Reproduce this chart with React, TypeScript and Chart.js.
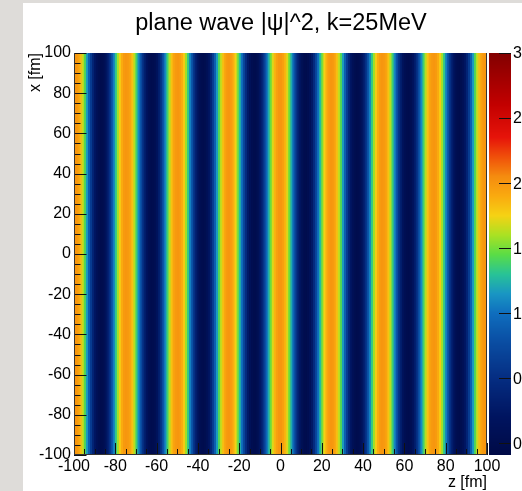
import React, { useEffect, useRef } from "react";
import { Chart, registerables } from "chart.js";

Chart.register(...registerables);

// ---------- data ----------
const TITLE = "plane wave |\u03C8|^2, k=25MeV";
const X_TITLE = "z [fm]";
const Y_TITLE = "x [fm]";

// z bin centres [fm], 1 fm bins
const zBinCenters = [
  -99.5, -98.5, -97.5, -96.5, -95.5, -94.5, -93.5, -92.5, -91.5, -90.5,
  -89.5, -88.5, -87.5, -86.5, -85.5, -84.5, -83.5, -82.5, -81.5, -80.5,
  -79.5, -78.5, -77.5, -76.5, -75.5, -74.5, -73.5, -72.5, -71.5, -70.5,
  -69.5, -68.5, -67.5, -66.5, -65.5, -64.5, -63.5, -62.5, -61.5, -60.5,
  -59.5, -58.5, -57.5, -56.5, -55.5, -54.5, -53.5, -52.5, -51.5, -50.5,
  -49.5, -48.5, -47.5, -46.5, -45.5, -44.5, -43.5, -42.5, -41.5, -40.5,
  -39.5, -38.5, -37.5, -36.5, -35.5, -34.5, -33.5, -32.5, -31.5, -30.5,
  -29.5, -28.5, -27.5, -26.5, -25.5, -24.5, -23.5, -22.5, -21.5, -20.5,
  -19.5, -18.5, -17.5, -16.5, -15.5, -14.5, -13.5, -12.5, -11.5, -10.5,
  -9.5, -8.5, -7.5, -6.5, -5.5, -4.5, -3.5, -2.5, -1.5, -0.5,
  0.5, 1.5, 2.5, 3.5, 4.5, 5.5, 6.5, 7.5, 8.5, 9.5,
  10.5, 11.5, 12.5, 13.5, 14.5, 15.5, 16.5, 17.5, 18.5, 19.5,
  20.5, 21.5, 22.5, 23.5, 24.5, 25.5, 26.5, 27.5, 28.5, 29.5,
  30.5, 31.5, 32.5, 33.5, 34.5, 35.5, 36.5, 37.5, 38.5, 39.5,
  40.5, 41.5, 42.5, 43.5, 44.5, 45.5, 46.5, 47.5, 48.5, 49.5,
  50.5, 51.5, 52.5, 53.5, 54.5, 55.5, 56.5, 57.5, 58.5, 59.5,
  60.5, 61.5, 62.5, 63.5, 64.5, 65.5, 66.5, 67.5, 68.5, 69.5,
  70.5, 71.5, 72.5, 73.5, 74.5, 75.5, 76.5, 77.5, 78.5, 79.5,
  80.5, 81.5, 82.5, 83.5, 84.5, 85.5, 86.5, 87.5, 88.5, 89.5,
  90.5, 91.5, 92.5, 93.5, 94.5, 95.5, 96.5, 97.5, 98.5, 99.5,
];

// |psi|^2 in each z bin (constant along x)
const intensity = [
  2.0, 1.99, 1.94, 1.84, 1.66, 1.43, 1.17, 0.9, 0.62, 0.38,
  0.21, 0.08, 0.02, 0.0, 0.04, 0.14, 0.3, 0.52, 0.78, 1.05,
  1.32, 1.58, 1.78, 1.9, 1.98, 2.0, 1.98, 1.93, 1.81, 1.62,
  1.37, 1.11, 0.84, 0.56, 0.34, 0.18, 0.06, 0.01, 0.01, 0.06,
  0.17, 0.34, 0.56, 0.83, 1.1, 1.37, 1.62, 1.81, 1.93, 1.98,
  2.0, 1.98, 1.9, 1.78, 1.58, 1.33, 1.06, 0.79, 0.52, 0.3,
  0.15, 0.04, 0.0, 0.02, 0.08, 0.2, 0.38, 0.62, 0.89, 1.17,
  1.43, 1.66, 1.83, 1.94, 1.99, 2.0, 1.97, 1.88, 1.74, 1.52,
  1.28, 1.01, 0.73, 0.47, 0.26, 0.12, 0.04, 0.0, 0.03, 0.1,
  0.24, 0.42, 0.67, 0.94, 1.22, 1.48, 1.7, 1.86, 1.95, 2.0,
  2.0, 1.95, 1.86, 1.7, 1.48, 1.22, 0.94, 0.67, 0.42, 0.24,
  0.1, 0.03, 0.0, 0.04, 0.12, 0.26, 0.47, 0.73, 1.01, 1.28,
  1.52, 1.74, 1.88, 1.97, 2.0, 1.99, 1.94, 1.83, 1.66, 1.43,
  1.17, 0.89, 0.62, 0.38, 0.2, 0.08, 0.02, 0.0, 0.04, 0.15,
  0.3, 0.52, 0.79, 1.06, 1.33, 1.58, 1.78, 1.9, 1.98, 2.0,
  1.98, 1.93, 1.81, 1.62, 1.37, 1.1, 0.83, 0.56, 0.34, 0.17,
  0.06, 0.01, 0.01, 0.06, 0.18, 0.34, 0.56, 0.84, 1.11, 1.37,
  1.62, 1.81, 1.93, 1.98, 2.0, 1.98, 1.9, 1.78, 1.58, 1.32,
  1.05, 0.78, 0.52, 0.3, 0.14, 0.04, 0.0, 0.02, 0.08, 0.21,
  0.38, 0.62, 0.9, 1.17, 1.43, 1.66, 1.84, 1.94, 1.99, 2.0,
];

const xExtent = [-100, 100]; // x [fm] range covered by every column
const axisMin = -100;
const axisMax = 100;
const axisStep = 20;
const minorStep = 5;
const colorRange = [-0.09, 3.0];
const colorbarTicks = [0, 0.5, 1, 1.5, 2, 2.5, 3];
const colorbarLabels = ["0", "0.5", "1", "1.5", "2", "2.5", "3"];

// ---------- style ----------
const FONT = "'Liberation Sans', Arial, Helvetica, sans-serif";
const PALETTE: [number, number, number, number][] = [
  [-0.09, 0, 10, 70],
  [0.2, 0, 20, 95],
  [0.5, 5, 45, 130],
  [0.8, 10, 80, 165],
  [1.0, 15, 110, 190],
  [1.15, 25, 150, 195],
  [1.3, 40, 195, 150],
  [1.45, 90, 220, 70],
  [1.6, 170, 225, 35],
  [1.75, 245, 210, 20],
  [1.9, 250, 170, 15],
  [2.05, 245, 140, 15],
  [2.2, 240, 80, 10],
  [2.35, 230, 20, 10],
  [2.6, 195, 0, 0],
  [3.0, 130, 0, 0],
];

function paletteColor(v: number): string {
  const s = PALETTE;
  const f = (a: number[]) => `rgb(${Math.round(a[1])},${Math.round(a[2])},${Math.round(a[3])})`;
  if (v <= s[0][0]) return f(s[0]);
  for (let i = 1; i < s.length; i++) {
    if (v <= s[i][0]) {
      const t = (v - s[i - 1][0]) / (s[i][0] - s[i - 1][0]);
      return f([0, 1, 2, 3].map((k) => s[i - 1][k] + (s[i][k] - s[i - 1][k]) * t));
    }
  }
  return f(s[s.length - 1]);
}

const rootStyle = {
  id: "rootStyle",
  afterDraw(chart: any) {
    const ctx = chart.ctx as CanvasRenderingContext2D;
    const xs = chart.scales.x;
    const ys = chart.scales.y;
    const zs = chart.scales.zc;
    const { left, right, top, bottom } = chart.chartArea;
    ctx.save();

    // axis ticks (pointing inward)
    ctx.strokeStyle = "#111";
    ctx.lineWidth = 1;
    ctx.beginPath();
    for (let v = axisMin; v <= axisMax; v += minorStep) {
      const major = (v - axisMin) % axisStep === 0;
      const py = Math.round(ys.getPixelForValue(v)) + 0.5;
      ctx.moveTo(left, py);
      ctx.lineTo(left + (major ? 12.5 : 6.5), py);
      const px = Math.round(xs.getPixelForValue(v)) + 0.5;
      ctx.moveTo(px, bottom);
      ctx.lineTo(px, bottom - (major ? 12 : 6));
    }
    ctx.stroke();

    // frame lines
    ctx.strokeStyle = "#333";
    ctx.beginPath();
    ctx.moveTo(Math.round(left) + 0.5, top);
    ctx.lineTo(Math.round(left) + 0.5, bottom);
    ctx.moveTo(left, Math.round(bottom) - 0.5);
    ctx.lineTo(right, Math.round(bottom) - 0.5);
    ctx.moveTo(Math.round(right) - 0.5, top);
    ctx.lineTo(Math.round(right) - 0.5, bottom);
    ctx.stroke();

    // colour bar
    const cbLeft = right + 2;
    const cbWidth = 22;
    const zTop = Math.round(zs.getPixelForValue(colorRange[1]));
    const zBot = Math.round(zs.getPixelForValue(colorRange[0]));
    for (let py = zTop; py < zBot; py++) {
      ctx.fillStyle = paletteColor(zs.getValueForPixel(py + 0.5));
      ctx.fillRect(cbLeft, py, cbWidth, 1);
    }
    ctx.strokeStyle = "#111";
    ctx.beginPath();
    colorbarTicks.forEach((v) => {
      const py = Math.round(zs.getPixelForValue(v)) + 0.5;
      ctx.moveTo(cbLeft + cbWidth, py);
      ctx.lineTo(cbLeft + cbWidth - 12, py);
    });
    ctx.stroke();
    ctx.fillStyle = "#000";
    ctx.font = `16px ${FONT}`;
    ctx.textAlign = "left";
    ctx.textBaseline = "middle";
    colorbarTicks.forEach((v, i) => {
      ctx.fillText(colorbarLabels[i], cbLeft + cbWidth + 2, zs.getPixelForValue(v) + 1);
    });

    // title
    ctx.font = `23.5px ${FONT}`;
    ctx.textAlign = "center";
    ctx.textBaseline = "alphabetic";
    ctx.fillText(TITLE, 281, 30);

    // axis titles
    ctx.font = `16px ${FONT}`;
    ctx.textAlign = "right";
    ctx.fillText(X_TITLE, right, 487);
    ctx.save();
    ctx.translate(39.5, top);
    ctx.rotate(-Math.PI / 2);
    ctx.textAlign = "right";
    ctx.fillText(Y_TITLE, 0, 0);
    ctx.restore();

    ctx.restore();
  },
};

export default function App() {
  const ref = useRef<HTMLCanvasElement>(null);
  useEffect(() => {
    const canvas = ref.current;
    if (!canvas) return;
    const tickFont = { family: FONT, size: 16 };
    const chart = new Chart(canvas, {
      type: "bar",
      data: {
        datasets: [
          {
            data: zBinCenters.map((z) => ({ x: z, y: xExtent })) as any,
            backgroundColor: intensity.map((v) => paletteColor(v)),
            borderWidth: 0,
            barPercentage: 1,
            categoryPercentage: 1,
            grouped: false,
            inflateAmount: 0.5,
            xAxisID: "x",
            yAxisID: "y",
          } as any,
        ],
      },
      options: {
        responsive: false,
        animation: false,
        events: [],
        layout: { padding: { left: 23, top: 53, right: 35, bottom: 0 } },
        plugins: {
          legend: { display: false },
          tooltip: { enabled: false },
          title: { display: false },
        },
        scales: {
          x: {
            type: "linear",
            min: axisMin,
            max: axisMax,
            offset: false,
            grid: { display: false, drawTicks: false, offset: false },
            border: { display: false },
            ticks: { stepSize: axisStep, font: tickFont, color: "#000", padding: 2, maxRotation: 0, autoSkip: false },
            afterFit: (s: any) => {
              s.height = 36;
            },
          },
          y: {
            type: "linear",
            min: axisMin,
            max: axisMax,
            grid: { display: false, drawTicks: false },
            border: { display: false },
            ticks: { stepSize: axisStep, font: tickFont, color: "#000", padding: 3 },
            afterFit: (s: any) => {
              s.width = 51;
            },
          },
          zc: {
            type: "linear",
            position: "right",
            display: false,
            min: colorRange[0],
            max: colorRange[1],
          },
        },
      } as any,
      plugins: [rootStyle],
    });
    return () => chart.destroy();
  }, []);

  return (
    <div
      style={{
        position: "fixed",
        left: 0,
        top: 0,
        width: 522,
        height: 491,
        background: "#dedcd9",
        overflow: "hidden",
      }}
    >
      <div style={{ position: "absolute", left: 23, top: 3, width: 499, height: 488, background: "#fff" }} />
      <canvas
        ref={ref}
        width={522}
        height={491}
        style={{ position: "absolute", left: 0, top: 0, width: 522, height: 491 }}
      />
    </div>
  );
}
